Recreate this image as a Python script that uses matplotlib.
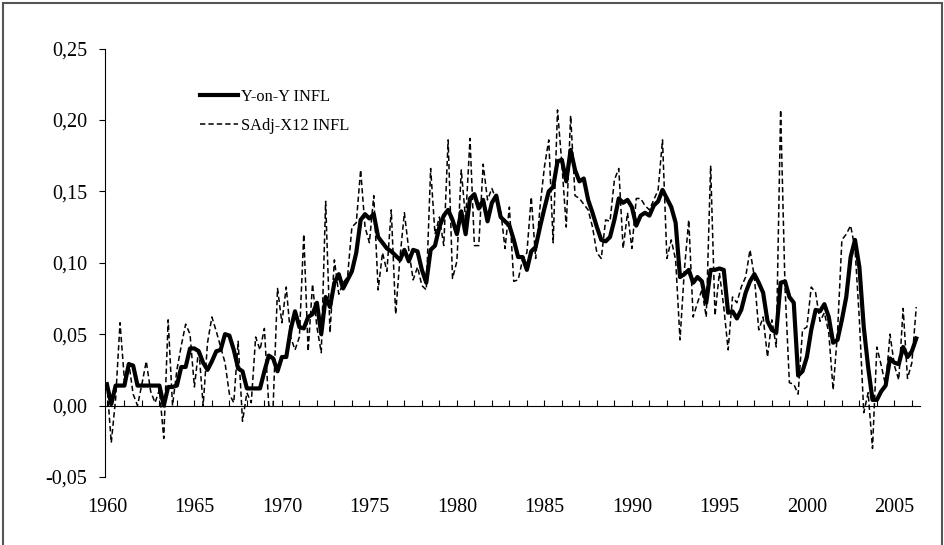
import numpy as np
import matplotlib
matplotlib.use("Agg")
import matplotlib.pyplot as plt
from matplotlib.patches import Rectangle

# quarterly series, 1960Q1 .. 2006Q2
start_year = 1960
yoy_infl = [
    0.015, 0.001, 0.014, 0.014, 0.014, 0.029, 0.028, 0.014, 0.014, 0.014,
    0.014, 0.014, 0.014, 0.000, 0.013, 0.013, 0.014, 0.027, 0.027, 0.040,
    0.040, 0.038, 0.030, 0.025, 0.031, 0.038, 0.039, 0.050, 0.049, 0.039,
    0.026, 0.024, 0.012, 0.012, 0.012, 0.012, 0.024, 0.035, 0.033, 0.024,
    0.034, 0.034, 0.053, 0.066, 0.055, 0.054, 0.062, 0.064, 0.072, 0.050,
    0.076, 0.069, 0.086, 0.092, 0.082, 0.088, 0.094, 0.107, 0.130, 0.134,
    0.131, 0.134, 0.118, 0.114, 0.110, 0.108, 0.105, 0.102, 0.109, 0.101,
    0.109, 0.108, 0.095, 0.086, 0.109, 0.112, 0.125, 0.133, 0.137, 0.130,
    0.120, 0.136, 0.120, 0.145, 0.148, 0.138, 0.144, 0.129, 0.142, 0.147,
    0.132, 0.129, 0.126, 0.116, 0.104, 0.104, 0.095, 0.108, 0.111, 0.125,
    0.138, 0.150, 0.153, 0.171, 0.172, 0.157, 0.179, 0.165, 0.157, 0.159,
    0.144, 0.135, 0.125, 0.116, 0.115, 0.118, 0.130, 0.145, 0.142, 0.144,
    0.139, 0.126, 0.133, 0.135, 0.133, 0.140, 0.143, 0.151, 0.145, 0.139,
    0.128, 0.090, 0.092, 0.095, 0.086, 0.090, 0.087, 0.072, 0.095, 0.095,
    0.096, 0.095, 0.065, 0.066, 0.061, 0.067, 0.079, 0.087, 0.092, 0.086,
    0.079, 0.059, 0.053, 0.051, 0.086, 0.087, 0.076, 0.072, 0.021, 0.024,
    0.034, 0.053, 0.067, 0.066, 0.071, 0.062, 0.044, 0.046, 0.060, 0.076,
    0.104, 0.116, 0.097, 0.055, 0.027, 0.004, 0.004, 0.010, 0.014, 0.033,
    0.030, 0.029, 0.041, 0.034, 0.038, 0.047,
]
sadj_infl = [
    0.015, -0.026, 0.005, 0.058, 0.018, 0.030, 0.008, 0.000, 0.015, 0.031,
    0.010, 0.002, 0.011, -0.023, 0.060, 0.000, 0.025, 0.042, 0.057, 0.050,
    0.013, 0.040, 0.000, 0.044, 0.062, 0.052, 0.041, 0.030, 0.008, 0.002,
    0.045, -0.011, 0.009, 0.002, 0.048, 0.039, 0.054, 0.000, 0.000, 0.082,
    0.058, 0.083, 0.048, 0.039, 0.048, 0.120, 0.038, 0.085, 0.055, 0.037,
    0.143, 0.051, 0.102, 0.078, 0.086, 0.090, 0.125, 0.128, 0.165, 0.125,
    0.114, 0.147, 0.081, 0.107, 0.094, 0.137, 0.064, 0.104, 0.135, 0.109,
    0.088, 0.097, 0.084, 0.081, 0.166, 0.120, 0.132, 0.112, 0.186, 0.089,
    0.101, 0.165, 0.130, 0.187, 0.112, 0.112, 0.169, 0.144, 0.152, 0.144,
    0.137, 0.110, 0.139, 0.087, 0.088, 0.102, 0.107, 0.146, 0.103, 0.139,
    0.167, 0.186, 0.114, 0.207, 0.169, 0.125, 0.203, 0.147, 0.145, 0.141,
    0.137, 0.125, 0.107, 0.103, 0.130, 0.129, 0.158, 0.166, 0.110, 0.135,
    0.110, 0.145, 0.145, 0.140, 0.137, 0.144, 0.151, 0.186, 0.103, 0.116,
    0.102, 0.046, 0.095, 0.130, 0.062, 0.072, 0.081, 0.062, 0.168, 0.063,
    0.093, 0.069, 0.039, 0.076, 0.072, 0.083, 0.090, 0.109, 0.090, 0.053,
    0.062, 0.034, 0.060, 0.041, 0.207, 0.083, 0.016, 0.015, 0.008, 0.053,
    0.055, 0.083, 0.079, 0.059, 0.065, 0.051, 0.011, 0.051, 0.116, 0.120,
    0.126, 0.110, 0.060, -0.005, 0.009, -0.030, 0.041, 0.028, 0.014, 0.050,
    0.028, 0.018, 0.068, 0.019, 0.030, 0.069,
]
year_ticks = list(range(1960, 2006, 5))
y_ticks = [-0.05, 0.00, 0.05, 0.10, 0.15, 0.20, 0.25]
y_labels = ["-0,05", "0,00", "0,05", "0,10", "0,15", "0,20", "0,25"]

plt.rcParams["font.family"] = ["Liberation Serif", "DejaVu Serif"]

x = start_year + np.arange(len(yoy_infl)) / 4.0

fig = plt.figure(figsize=(9.44, 5.45), dpi=100)
ax = fig.add_axes([0.1112, 0.1248, 0.8633, 0.7862])

ax.plot(x, yoy_infl, color="black", linewidth=3.0, solid_joinstyle="round",
        label="Y-on-Y INFL")
ax.plot(x, sadj_infl, color="black", linewidth=1.1, linestyle=(0, (3.5, 2)),
        label="SAdj-X12 INFL")

ax.set_xlim(1959.89, 2006.46)
ax.set_ylim(-0.05, 0.25)

# category axis crosses at zero, yearly tick marks pointing up
ax.spines["top"].set_visible(False)
ax.spines["right"].set_visible(False)
ax.spines["bottom"].set_position(("data", 0))
ax.set_xticks(np.arange(1960, 2007))
ax.tick_params(axis="x", direction="in", length=4, width=0.8, labelbottom=False)

ax.set_yticks(y_ticks)
ax.set_yticklabels(y_labels)
ax.tick_params(axis="y", direction="out", length=4, width=0.8, pad=9, labelsize=14.5)

# year labels sit at the bottom of the plot area
sec = ax.secondary_xaxis(0.0)
sec.set_xticks(year_ticks)
sec.set_xticklabels([str(y) for y in year_ticks])
sec.tick_params(length=0, pad=15, labelsize=14.5)
sec.spines["bottom"].set_visible(False)

ax.legend(loc="upper left", bbox_to_anchor=(0.117, 0.905), frameon=False,
          fontsize=11.8, handlelength=2.3, handletextpad=0.2,
          borderpad=0, borderaxespad=0, labelspacing=0.75)

# outer chart border
fig.patches.append(Rectangle((3 / 944, -0.02), 939 / 944, 1.02 - 3 / 545,
                             transform=fig.transFigure, fill=False,
                             edgecolor="#555555", linewidth=1.5))

fig.savefig("out.png", dpi=100)
